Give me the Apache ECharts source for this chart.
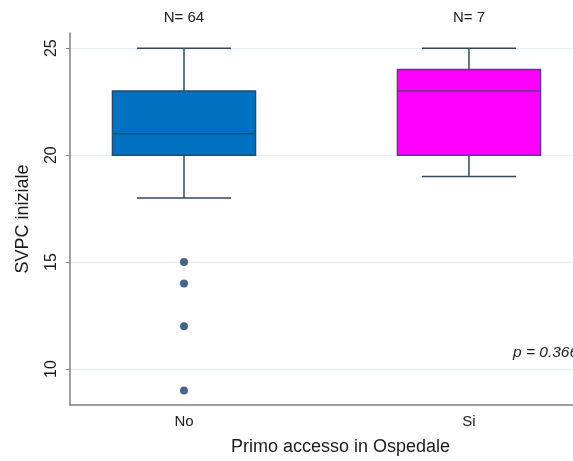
<!DOCTYPE html>
<html>
<head>
<meta charset="utf-8">
<script src="https://cdn.jsdelivr.net/npm/echarts@6/dist/echarts.min.js"></script>
<style>
html,body{margin:0;padding:0;background:#fff;}
#c{width:573px;height:461px;}
</style>
</head>
<body>
<div id="c"></div>
<script>
// categories and counts
const categories = ['No', 'Si'];
const counts = ['N= 64', 'N= 7'];
// box stats: [min, Q1, median, Q3, max]
const boxNo = [18, 20, 21, 23, 25];
const boxSi = [19, 20, 23, 24, 25];
// outliers (group No)
const outliersNo = [15, 14, 12, 9];
// y tick labels
const yTicks = [10, 15, 20, 25];
const pText = 'p = 0.366';

const boxColors = ['#0070c0', '#ff00ff'];
const boxBorders = ['#234a74', '#5b3a8c'];

const boxData = [[0].concat(boxNo), [1].concat(boxSi)];
const outlierData = outliersNo.map(v => [0, v]);

const chart = echarts.init(document.getElementById('c'));
const font = '"Liberation Sans", Arial, sans-serif';

chart.setOption({
  animation: false,
  backgroundColor: '#ffffff',
  grid: { left: 70, right: 0, top: 33, bottom: 49 },
  xAxis: [{
    type: 'value',
    min: -0.4,
    max: 1.365,
    position: 'bottom',
    axisLine: { show: true, onZero: false, lineStyle: { color: '#7f7f7f', width: 1.5 } },
    axisTick: { show: false },
    splitLine: { show: false },
    axisLabel: {
      customValues: [0, 1],
      formatter: v => categories[Math.round(v)],
      color: '#1a1a1a', fontSize: 15, fontFamily: font, margin: 9
    },
    name: 'Primo accesso in Ospedale',
    nameLocation: 'middle',
    nameGap: 33,
    nameTextStyle: { color: '#1a1a1a', fontSize: 18, fontFamily: font, padding: [0, 0, 0, 38] }
  }, {
    type: 'value',
    min: -0.4,
    max: 1.365,
    position: 'top',
    axisLine: { show: false, onZero: false },
    axisTick: { show: false },
    splitLine: { show: false },
    axisLabel: {
      customValues: [0, 1],
      formatter: v => counts[Math.round(v)],
      color: '#1a1a1a', fontSize: 15, fontFamily: font, margin: 8
    }
  }],
  yAxis: {
    type: 'value',
    min: 8.32,
    max: 25.71,
    axisLine: { show: true, onZero: false, lineStyle: { color: '#7f7f7f', width: 1.5 } },
    axisTick: { show: true, customValues: yTicks, length: 4, lineStyle: { color: '#7f7f7f' } },
    axisLabel: {
      customValues: yTicks,
      rotate: 90,
      color: '#1a1a1a', fontSize: 16, fontFamily: font, margin: 10
    },
    splitLine: { show: true, lineStyle: { color: '#e6edf2', width: 1 } },
    name: 'SVPC iniziale',
    nameLocation: 'middle',
    nameGap: 38,
    nameTextStyle: { color: '#1a1a1a', fontSize: 18, fontFamily: font }
  },
  series: [{
    type: 'custom',
    xAxisIndex: 0,
    data: boxData,
    encode: { x: 0, y: [1, 2, 3, 4, 5] },
    renderItem: function (params, api) {
      const x = api.value(0);
      const idx = params.dataIndex;
      const mn = api.coord([x, api.value(1)]);
      const q1 = api.coord([x, api.value(2)]);
      const md = api.coord([x, api.value(3)]);
      const q3 = api.coord([x, api.value(4)]);
      const mx = api.coord([x, api.value(5)]);
      const boxW = api.size([0.502, 0])[0];
      const capW = api.size([0.33, 0])[0];
      const cx = mn[0];
      const whisk = { stroke: '#33475e', lineWidth: 1.5 };
      return {
        type: 'group',
        children: [
          { type: 'line', shape: { x1: cx, y1: q3[1], x2: cx, y2: mx[1] }, style: whisk },
          { type: 'line', shape: { x1: cx, y1: q1[1], x2: cx, y2: mn[1] }, style: whisk },
          { type: 'line', shape: { x1: cx - capW / 2, y1: mx[1], x2: cx + capW / 2, y2: mx[1] }, style: whisk },
          { type: 'line', shape: { x1: cx - capW / 2, y1: mn[1], x2: cx + capW / 2, y2: mn[1] }, style: whisk },
          { type: 'rect', shape: { x: cx - boxW / 2, y: q3[1], width: boxW, height: q1[1] - q3[1] },
            style: { fill: boxColors[idx], stroke: boxBorders[idx], lineWidth: 1.5 } },
          { type: 'line', shape: { x1: cx - boxW / 2, y1: md[1], x2: cx + boxW / 2, y2: md[1] },
            style: { stroke: boxBorders[idx], lineWidth: 1.5 } }
        ]
      };
    }
  }, {
    type: 'scatter',
    xAxisIndex: 0,
    data: outlierData,
    symbol: 'circle',
    symbolSize: 8,
    itemStyle: { color: '#173f6b' }
  }],
  graphic: [{
    type: 'text',
    left: 513,
    top: 345,
    style: { text: pText, fill: '#1a1a1a', fontSize: 15.5, fontStyle: 'italic', fontFamily: font }
  }]
});
</script>
</body>
</html>
